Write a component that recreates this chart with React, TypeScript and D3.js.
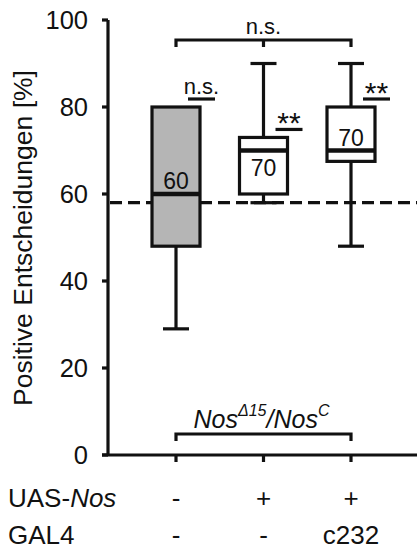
import * as d3 from "d3";

// values
const groups = ["ctrl", "uas", "c232"];
const whiskerLow = [29, 58, 48];
const q1 = [48, 60, 67.5];
const median = [60, 70, 70];
const q3 = [80, 73, 80];
const whiskerHigh = [80, 90, 90];
const medianLabels = ["60", "70", "70"];
const sigLabels = ["n.s.", "**", "**"];
const boxFills = ["#b5b5b5", "#ffffff", "#ffffff"];
const uasRow = ["-", "+", "+"];
const gal4Row = ["-", "-", "c232"];
const baseline = 58;
const yTicks = [0, 20, 40, 60, 80, 100];

const W = 417;
const H = 551;
const font = "'Liberation Sans', Arial, Helvetica, sans-serif";

export default function App() {
  const y = d3.scaleLinear().domain([0, 100]).range([455, 20]);
  const x = d3.scalePoint().domain(groups).range([176, 351]);
  const axisX = 108;
  const boxW = 48;
  const sw = 3.2;

  const xs = groups.map((g) => x(g) as number);
  const [xL, xM, xR] = xs;

  return (
    <svg width={W} height={H} style={{ position: "absolute", left: 0, top: 0, background: "#fff" }} fontFamily={font}>
      {/* y axis */}
      <line x1={axisX} x2={axisX} y1={y(100)} y2={y(0)} stroke="#111" strokeWidth={sw} />
      {yTicks.map((t) => (
        <g key={t}>
          <line x1={axisX - 6} x2={axisX} y1={y(t)} y2={y(t)} stroke="#111" strokeWidth={sw} />
          <text x={axisX - 20} y={y(t)} dy="0.36em" textAnchor="end" fontSize={25.5} fill="#111">
            {t}
          </text>
        </g>
      ))}
      <text
        transform={`translate(32, ${238}) rotate(-90)`}
        textAnchor="middle"
        fontSize={26.5}
        fill="#111"
      >
        Positive Entscheidungen [%]
      </text>

      {/* x axis */}
      <line x1={axisX - 6} x2={W} y1={y(0)} y2={y(0)} stroke="#111" strokeWidth={sw} />
      {xs.map((cx, i) => (
        <line key={i} x1={cx} x2={cx} y1={y(0)} y2={y(0) + 7} stroke="#111" strokeWidth={sw} />
      ))}

      {/* dashed reference line */}
      <line
        x1={axisX + 2}
        x2={W}
        y1={y(baseline)}
        y2={y(baseline)}
        stroke="#111"
        strokeWidth={sw}
        strokeDasharray="12 6"
      />

      {/* boxes */}
      {groups.map((g, i) => {
        const cx = xs[i];
        const above = q3[i] - median[i] > median[i] - q1[i];
        return (
          <g key={g}>
            {whiskerHigh[i] > q3[i] && (
              <>
                <line x1={cx} x2={cx} y1={y(whiskerHigh[i])} y2={y(q3[i])} stroke="#111" strokeWidth={sw} />
                <line x1={cx - 13} x2={cx + 13} y1={y(whiskerHigh[i])} y2={y(whiskerHigh[i])} stroke="#111" strokeWidth={sw} />
              </>
            )}
            <line x1={cx} x2={cx} y1={y(q1[i])} y2={y(whiskerLow[i])} stroke="#111" strokeWidth={sw} />
            <line x1={cx - 13} x2={cx + 13} y1={y(whiskerLow[i])} y2={y(whiskerLow[i])} stroke="#111" strokeWidth={sw} />
            <rect
              x={cx - boxW / 2}
              y={y(q3[i])}
              width={boxW}
              height={y(q1[i]) - y(q3[i])}
              fill={boxFills[i]}
              stroke="#111"
              strokeWidth={sw}
            />
            <line x1={cx - boxW / 2} x2={cx + boxW / 2} y1={y(median[i])} y2={y(median[i])} stroke="#111" strokeWidth={4.5} />
            <text
              x={cx}
              y={above ? y(median[i]) - 5 : y(median[i]) + 25}
              textAnchor="middle"
              fontSize={23}
              fill="#111"
            >
              {medianLabels[i]}
            </text>
            {/* significance vs. dashed line */}
            <line
              x1={cx + 12}
              x2={cx + 39}
              y1={y(q3[i]) - 8}
              y2={y(q3[i]) - 8}
              stroke="#111"
              strokeWidth={sw}
            />
            <text
              x={cx + 25.5}
              y={sigLabels[i] === "**" ? y(q3[i]) - 4 : y(q3[i]) - 13}
              textAnchor="middle"
              fontSize={sigLabels[i] === "**" ? 30 : 22}
              fill="#111"
            >
              {sigLabels[i]}
            </text>
          </g>
        );
      })}

      {/* top bracket */}
      <path
        d={`M${xL},${47} V${40} H${xR} V${47} M${xM},${40} V${47}`}
        fill="none"
        stroke="#111"
        strokeWidth={sw}
      />
      <text x={xM} y={34} textAnchor="middle" fontSize={22} fill="#111">
        n.s.
      </text>

      {/* genotype bracket */}
      <path
        d={`M${xL},${441} V${434} H${xR} V${441}`}
        fill="none"
        stroke="#111"
        strokeWidth={sw}
      />
      <text x={xM - 2} y={428} textAnchor="middle" fontSize={25} fill="#111" fontStyle="italic">
        Nos
        <tspan fontSize={16} dy={-12}>Δ15</tspan>
        <tspan dy={12}>/Nos</tspan>
        <tspan fontSize={16} dy={-12}>C</tspan>
      </text>

      {/* genotype table */}
      <text x={8} y={507} fontSize={26} fill="#111">
        UAS-<tspan fontStyle="italic">Nos</tspan>
      </text>
      <text x={8} y={544} fontSize={26} fill="#111">
        GAL4
      </text>
      {xs.map((cx, i) => (
        <g key={i}>
          <text x={cx} y={507} textAnchor="middle" fontSize={26} fill="#111">
            {uasRow[i]}
          </text>
          <text x={cx} y={544} textAnchor="middle" fontSize={26} fill="#111">
            {gal4Row[i]}
          </text>
        </g>
      ))}
    </svg>
  );
}
